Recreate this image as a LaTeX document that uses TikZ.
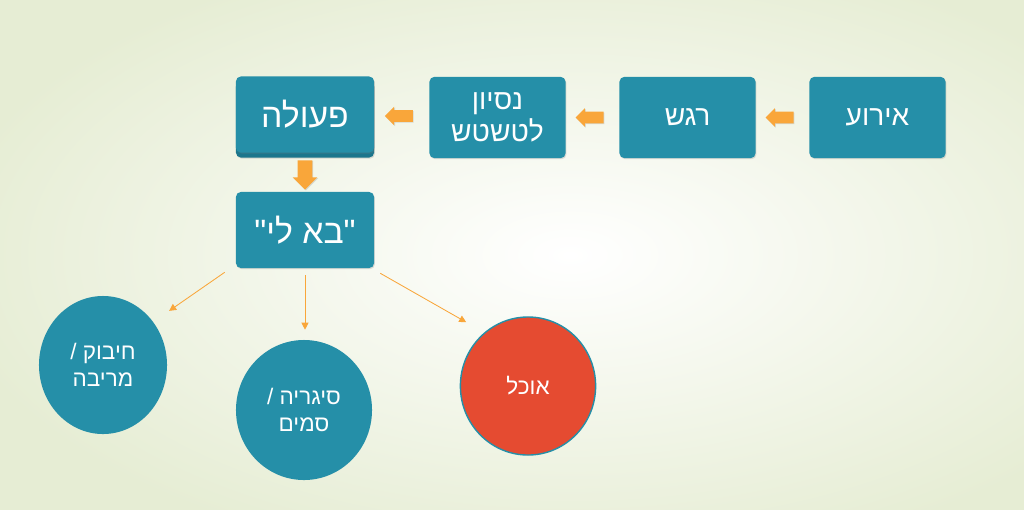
\documentclass[tikz,border=0pt]{standalone}
\usepackage{fontspec}
\newfontfamily\heb[Script=Hebrew]{Liberation Sans}
\TeXXeTstate=1
\usetikzlibrary{shapes.arrows,shapes.geometric,shadows,arrows.meta}
\definecolor{tealbox}{RGB}{37,143,168}
\definecolor{tealdark}{RGB}{28,118,140}
\definecolor{orangearr}{RGB}{249,166,58}
\definecolor{redcirc}{RGB}{229,75,49}
\definecolor{bgedge}{RGB}{230,237,212}
\tikzset{
  box/.style={draw=none, fill=tealbox, text=white, rounded corners=0.12cm,
    minimum width=3.4cm, minimum height=2.03cm, inner sep=0pt, align=center,
    drop shadow={opacity=0.25, shadow xshift=0.6pt, shadow yshift=-0.8pt}},
  bigbox/.style={box, minimum width=3.45cm, minimum height=1.9cm},
  circ/.style={ellipse, fill=tealbox, text=white, inner sep=0pt, align=center},
  blockarrow/.style={single arrow, fill=orangearr, draw=none, inner sep=0.137cm,
    minimum height=0.7cm, single arrow head extend=0.09cm,
    drop shadow={opacity=0.25, shadow xshift=0.6pt, shadow yshift=-0.6pt}},
  downarrow/.style={blockarrow, inner sep=0.175cm, minimum height=0.73cm,
    single arrow head extend=0.125cm, shape border rotate=270},
  thinarrow/.style={draw=orangearr, line width=0.6pt, -{Triangle[length=5pt,width=5pt]}},
  small/.style={font=\heb\fontsize{20}{22.5}\selectfont},
  large/.style={font=\heb\fontsize{24}{26}\selectfont},
  ctext/.style={font=\heb\fontsize{16}{19}\selectfont}
}
\begin{document}
\begin{tikzpicture}[x=0.025cm,y=-0.025cm]
\useasboundingbox (0,0) rectangle (1024,509);
\shade[inner color=white, outer color=bgedge] (-60,-60) rectangle (1200,570);

% top row boxes
\node[box, small] (e) at (877.5,117.5) {\beginR אירוע\endR};
\node[box, small] (r) at (687.5,117.5) {\beginR רגש\endR};
\node[box, small] (n) at (497.5,117.5) {\beginR נסיון\endR\\\beginR לטשטש\endR};
\node[bigbox, fill=tealdark] (pd) at (305,119.5) {};
\node[bigbox, large, drop shadow={opacity=0}] (p) at (305,114.5) {\beginR פעולה\endR};
\node[bigbox, large] (b) at (305,230) {\beginR"בא לי"\endR};

% block arrows
\path (e.west) -- (r.east) node[midway, blockarrow, shape border rotate=180] (a1) {};
\path (r.west) -- (n.east) node[midway, blockarrow, shape border rotate=180] (a2) {};
\path (n.west) -- (p.east) node[midway, blockarrow, shape border rotate=180] (a3) {};
\path (pd.south) -- (b.north) node[pos=0.4, downarrow] (a4) {};

% circles
\node[circ, ctext, minimum width=3.2cm, minimum height=3.45cm] (c1) at (103,365)
  {\beginR חיבוק /\endR\\\beginR מריבה\endR};
\node[circ, ctext, minimum width=3.4cm, minimum height=3.5cm] (c2) at (304,410)
  {\beginR סיגריה /\endR\\\beginR סמים\endR};
\node[circ, ctext, fill=redcirc, draw=tealbox, line width=1pt,
  minimum width=3.38cm, minimum height=3.45cm] (c3) at (528,386) {\beginR אוכל\endR};

% thin arrows
\draw[thinarrow] ([shift={(-11,4)}]b.south west) -- ([shift={(19,-7)}]c1.45);
\draw[thinarrow] ([shift={(0,7)}]b.south) -- ([shift={(1,-10)}]c2.north);
\draw[thinarrow] ([shift={(6,5)}]b.south east) -- ([shift={(-13,-15)}]c3.135);
\end{tikzpicture}
\end{document}
